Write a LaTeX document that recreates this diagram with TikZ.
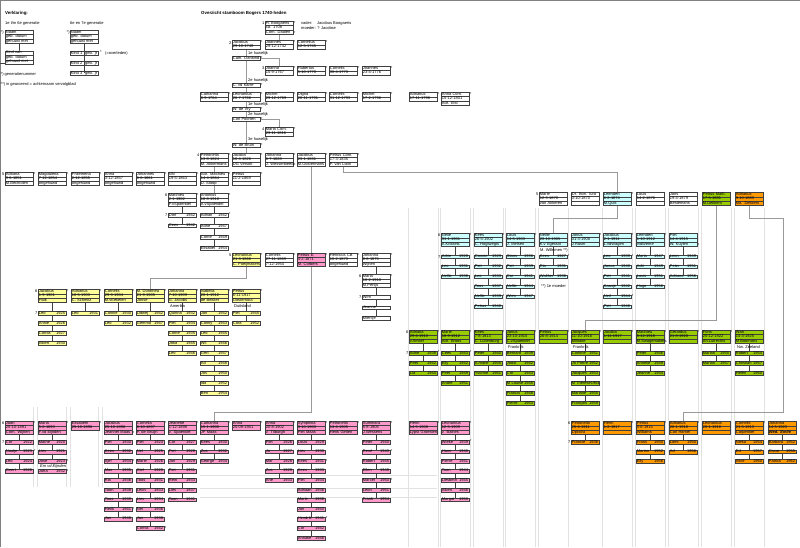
\documentclass[tikz,border=0pt]{standalone}
\usepackage{fontspec}
\setmainfont{Liberation Sans}
\usetikzlibrary{shapes.multipart}
\definecolor{yel}{HTML}{FFFF99}
\definecolor{pnk}{HTML}{FF99CC}
\definecolor{cyn}{HTML}{CCFFFF}
\definecolor{grn}{HTML}{99CC00}
\definecolor{org}{HTML}{FF9900}
\definecolor{boxc}{HTML}{404040}
\definecolor{linec}{HTML}{9A9A9A}
\definecolor{faint}{HTML}{E2E2E2}
\pgfdeclarelayer{bg}
\pgfsetlayers{bg,main}
\newcommand\tf{\fontsize{4}{4.8}\selectfont}
\newcommand\rs{\rule[-1.2pt]{0pt}{4pt}}
\newcommand\ks{\rule[-1pt]{0pt}{3.7pt}}
\newcount\lc
\newcommand\lab[3]{\global\advance\lc by 1\relax\node[lbl] (t\the\lc) at (#1,#2) {#3};}
\newcommand\gn[3]{\global\advance\lc by 1\relax\node[lbl,anchor=east] (t\the\lc) at ({#1-0.4},{#2+2.6}) {#3};}
\newcommand\sa[2]{\global\advance\lc by 1\relax\node[lbl] (t\the\lc) at ({#1+28.6},{#2+1.9}) {*};}
\newcommand\PB[7]{\node[pb3,fill=#4] (#1) at (#2,#3) {\mbox{\rs #5}\nodepart{two}\mbox{\rs #6}\nodepart{three}\mbox{\rs #7}};}
\newcommand\PT[6]{\node[pb2,fill=#4] (#1) at (#2,#3) {\mbox{\rs #5}\nodepart{two}\mbox{\rs #6}};}
\newcommand\SB[5]{\node[kb,fill=#4] (#1) at (#2,#3) {\mbox{\ks #5}};}
\newcommand\KT[2]{\hbox to 26.2pt{\ks #1\hfil #2}}
\newcommand\Kids[7]{%
 \foreach \nm/\yr/\sk [count=\ci] in {#7}{%
   \node[kb,fill=#6] (#1\ci) at (#3,{#4+(\ci-1)*#5}) {\KT{\nm}{\yr}};
   \ifnum\sk=1 \node[lbl] (#1s\ci) at ({#3+28.6},{#4+(\ci-1)*#5+1.6}) {*};\fi
   \xdef\lastk{#1\ci}}%
 \begin{pgfonlayer}{bg}\draw[kidl] (#2.south) -- (\lastk.center);\end{pgfonlayer}}
\tikzset{
 pb3/.style={rectangle split, rectangle split parts=3, draw=boxc, line width=0.4pt,
   text width=26.2pt, inner xsep=0.7pt, inner ysep=0pt, anchor=north west, font=\tf, align=left},
 pb2/.style={pb3, rectangle split parts=2},
 kb/.style={draw=boxc, line width=0.4pt, text width=26.2pt, inner xsep=0.7pt, inner ysep=0pt,
   anchor=north west, font=\tf, align=left},
 lbl/.style={font=\tf, inner sep=0pt, anchor=west},
 conn/.style={draw=linec, line width=1pt},
 kidl/.style={draw=boxc, line width=0.4pt},
 fl/.style={draw=faint, line width=0.5pt},
}
\begin{document}
\begin{tikzpicture}[x=1pt,y=-1pt]
\useasboundingbox (0,0) rectangle (800,547);
\begin{pgfonlayer}{bg}
\fill[white] (0,0) rectangle (800,547);
\draw[gray, line width=1.4pt] (0.7,547) -- (0.7,0.7) -- (800,0.7);
% faint grid remnants
\foreach \xx in {409,441,474,506,539,603,636,669,702,735}{
  \draw[fl] (\xx-0.8,208) -- (\xx-0.8,547);
  \draw[fl] (\xx+28.8,208) -- (\xx+28.8,547);}
\draw[fl] (200,475) -- (437,475);
\draw[fl] (200,488) -- (437,488);
\draw[fl] (200,497) -- (437,497);
\foreach \xx in {33.5,37,66,70,98.5,102}{\draw[fl] (\xx,407) -- (\xx,487);}
\end{pgfonlayer}
% ---------- legend ----------
\node[lbl,font={\fontsize{4.4}{5}\selectfont\bfseries}] (ver) at (5,13) {Verklaring:};
\lab{5}{23.3}{1e t/m 6e generatie}
\lab{70}{23.3}{6e en 7e generatie}
\lab{0.5}{32}{*)}
\PB{la}{5}{30}{white}{Naam}{geb. datum}{gehuwd met}
\PB{lb}{5}{50.5}{white}{Kind van}{geb. datum}{gehuwd met}
\lab{66.5}{32}{*)}
\PB{lc}{70}{30}{white}{Naam}{geb. datum}{gehuwd met}
\node[kb] (lk1) at (70,51) {\KT{Kind 1}{geb. jr}};
\node[kb] (lk2) at (70,61) {\KT{Kind 2}{geb. jr}};
\node[kb] (lk3) at (70,71) {\KT{Kind 3}{geb. jr}};
\lab{100}{52.5}{*}
\lab{105}{53.3}{(=overleden)}
\lab{0.5}{74}{*) generatienummer}
\lab{0.5}{84.3}{**) in gearceerd = achternaam vervolgblad}
\coordinate (ls) at (0,63.3);
\begin{pgfonlayer}{bg}
\draw[kidl] (la.south) -- (lb.north);
\draw[kidl] (lc.south) -- (lk3.center);
\draw[kidl] (ls) -- (ls -| lb.west);
\end{pgfonlayer}
% ---------- title ----------
\node[lbl,font={\fontsize{4.4}{5}\selectfont\bfseries}] (tit) at (201,13.3) {Overzicht stamboom Bogers 1740-heden};
\lab{301}{23}{vader:}
\lab{317}{23}{Jacobus Boogaerts}
\lab{301}{28}{moeder: ? Jacobse}
% ---------- gen 1-4 ----------
\gn{265}{21}{1}
\PB{hb}{265}{21}{white}{H. Boogaerts}{ca. 1708}{Corn. Daalen}
\sa{265}{21}\sa{265}{31}
\gn{232}{40}{2}
\PT{ja2}{232}{40}{white}{Jacobus}{29-10-1740}\sa{232}{40}
\PT{jo2}{265}{40}{white}{Joannes}{29-12-1742}\sa{265}{40}
\PT{co2}{297}{40}{white}{Cornelius}{12-5-1745}\sa{297}{40}
\lab{248}{53.8}{1e huwelijk}
\SB{cath}{232}{56}{white}{Cath. Daniond}\sa{232}{56}
\gn{265}{66}{3}
\PT{jn3}{265}{66}{white}{Joanna}{15-9-1767}\sa{265}{66}
\PT{hu3}{297}{66}{white}{Hubertus}{5-10-1770}\sa{297}{66}
\PT{cr3}{329}{66}{white}{Cornelis}{30-4-1773}\sa{329}{66}
\PT{jo3}{362}{66}{white}{Joannes}{23-4-1776}\sa{362}{66}
\lab{248}{80.8}{2e huwelijk}
\SB{vdk}{232}{83}{white}{C. vd Karre}\sa{232}{83}
\PT{ca3}{200}{92}{white}{Catharina}{8-9-1764}\sa{200}{92}
\PT{le3}{232}{92}{white}{Leonardus}{26-7-1766}\sa{232}{92}
\PT{mi3}{265}{92}{white}{Michel}{29-12-1769}\sa{265}{92}
\PT{di3}{297}{92}{white}{Digna}{28-11-1791}\sa{297}{92}
\PT{cn3}{329}{92}{white}{Cornelis}{31-12-1793}\sa{329}{92}
\PT{mj3}{362}{92}{white}{Michel}{17-2-1796}\sa{362}{92}
\PT{ad3}{409}{92}{white}{Adrianus}{17-11-1798}\sa{409}{92}
\PB{an3}{441}{92}{white}{Anna Corn.}{15-12-1801}{Adr. Elst}\sa{441}{92}
\lab{248}{104.8}{1e huwelijk}
\SB{vry}{232}{107}{white}{W. de Vry}\sa{232}{107}
\lab{248}{114.8}{2e huwelijk}
\SB{poo}{232}{117}{white}{Corl Poorten}\sa{232}{117}
\gn{265}{127}{4}
\PT{mc}{265}{127}{white}{Maria Corn.}{23-11-1816}\sa{265}{127}
\lab{248}{139.8}{3e huwelijk}
\SB{bru}{232}{143}{white}{W. de Bruin}\sa{232}{143}
\gn{200}{153}{4}
\PB{pe4}{200}{153}{white}{Petronella}{13-8-1824}{M. Akkermans}\sa{200}{153}
\PB{jc4}{232}{153}{white}{Jacoba}{10-4-1826}{DG Versolt}\sa{232}{153}
\PB{jh4}{265}{153}{white}{Johanna}{6-7-1828}{J. Wessenbeeck}\sa{265}{153}
\PB{jb4}{297}{153}{white}{Jacobus}{23-1-1831}{M.Oostermans}\sa{297}{153}
\PB{pc4}{329}{153}{white}{Petrus Corn.}{17-3-1835}{P. van Loon}\sa{329}{153}
% ---------- gen 5 left ----------
\gn{5}{172}{5}
\PB{a5}{5}{172}{white}{Adriana}{9-6-1851}{M.Bechtolen}\sa{5}{172}
\PB{b5}{38}{172}{white}{Magdalena}{7-12-1854}{ongehuwd}\sa{38}{172}
\PB{c5}{71}{172}{white}{Philemena}{2-12-1855}{ongehuwd}\sa{71}{172}
\PB{d5}{104}{172}{white}{Anna}{3-12-1857}{ongehuwd}\sa{104}{172}
\PB{e5}{136}{172}{white}{Johannes}{6-6-1861}{ongehuwd}\sa{136}{172}
\PB{f5}{168}{172}{white}{NN}{19-5-1863}{}\sa{168}{172}
\PB{am5}{200}{172}{white}{Adr. Matthieu}{14-4-1864}{D. Stoop}\sa{200}{172}
\PB{pt5}{232}{172}{white}{Petrus}{11-2-1869}{}\sa{232}{172}
\gn{168}{193}{6}
\PB{mt6}{168}{193}{white}{Matthieu}{2-1-1902}{P.vSpaendel}\sa{168}{193}
\PB{at6}{200}{193}{white}{Antonius}{18-8-1918}{A.vSpaendel}\sa{200}{193}
\gn{168}{213}{7}
\Kids{kma}{mt6}{168}{213}{10.5}{white}{Dorf/1942/0,Cees/1942/0}
\Kids{kan}{at6}{200}{213}{11}{white}{Adrian/1942/1,Adrie/1947/0,Corrie/1949/0,Elisabet/1954/0}
% ---------- gen 5 right ----------
\gn{539}{192}{5}
\PB{mr5}{539}{192}{white}{Marie}{12-3-1870}{van Akkeren}
\PB{bo5}{571}{192}{white}{Dr. Bon. Iura}{3-10-1870}{}
\PB{ld5}{603}{192}{cyn}{Leendert}{6-2-1874}{M.Quik}\sa{603}{192}
\PB{lo5}{636}{192}{white}{Louis}{14-2-1876}{}
\PB{js5}{669}{192}{white}{Jans}{19-4-1879}{Bestemans}
\PB{pm5}{702}{192}{grn}{Petrus Math.}{17-5-1881}{M.Dekkers}
\PB{ao5}{735}{192}{org}{Adrianus}{9-10-1883}{Ma. Dekkers}
% cyan gen 6
\gn{441}{233}{6}
\PB{cne}{441}{233}{cyn}{Nelle}{31-1-1901}{A.Krikkels}\sa{441}{233}
\PB{cke}{474}{233}{cyn}{Kees}{26-5-1902}{C. Hogtwegts}\sa{474}{233}
\PB{clo}{506}{233}{cyn}{Louis}{14-5-1903}{J. Melsen}\sa{506}{233}
\PB{cnl}{539}{233}{cyn}{Nellie}{20-10-1905}{K.v Egeraat}
\PB{cjn}{571}{233}{cyn}{Janus}{31-3-1908}{J.Rasm}
\PB{cja}{603}{233}{cyn}{Jacobus}{2-1-1911}{L.vdWagen}\sa{571}{233}
\PB{cle}{636}{233}{cyn}{Leendert}{1-10-1912}{IvdWeme}\sa{603}{233}
\PB{cpi}{669}{233}{cyn}{Piet}{14-4-1915}{W. Kuylen}\sa{636}{233}\sa{669}{243}
\lab{540}{250.8}{M. Willemen **)}
\gn{441}{254.5}{7}
\Kids{kca}{cne}{441}{254.5}{10}{cyn}{Adrie/1928/0,Leo/1931/0,Nellie/1938/0}
\Kids{kcb}{cke}{474}{254.5}{10}{cyn}{Connie/1929/0,Piet/1932/0,Leo/1933/0,Toos/1937/0,Nellie/1939/1,Petrus/1940/0}
\Kids{kcc}{clo}{506}{254.5}{10}{cyn}{Stans/1936/0,Piet/1939/0,Cor/1941/0,Nellie/1944/0,Wies/1947/0}
\Kids{kcd}{cnl}{539}{254.5}{10}{cyn}{Kees/1927/1,Ria/1931/0,Walther/1936/0}
\Kids{kce}{cja}{603}{254.5}{10}{cyn}{Leo/1939/1,Janus/1940/0,Piet/1941/0,Kaasje/1942/0,Neil/1944/1,Piet/1946/0}
\Kids{kcf}{cle}{636}{254.5}{10}{cyn}{Maria/1947/0,Adri/1949/0,Louis/1951/0,Hugo/1956/0}
\Kids{kcg}{cpi}{669}{254.5}{10}{cyn}{Leon/1949/0,Peter/1951/0,Adriano/1956/0}
\lab{541}{286.7}{**) 1e moeder}
% ---------- gen 5 middle ----------
\gn{232}{253}{5}
\PB{ly5}{232}{253}{yel}{Leonardus}{21-3-1866}{C. Poeijmakers}\sa{232}{253}
\PB{cr5}{265}{253}{white}{Cornelis}{27-11-1869}{7-12-1954}\sa{265}{253}
\PB{pe5}{297}{253}{pnk}{Petrus E.}{4-2-1871}{M. Corbers}\sa{297}{253}
\PB{hc5}{329}{253}{white}{Henricus CB}{10-2-1873}{ongehuwd}\sa{329}{253}
\PB{jh5}{362}{253}{white}{Johanna}{8-6-1875}{Wijnen}\sa{362}{253}
\gn{362}{274}{6}
\PB{ma6}{362}{274}{white}{Maria}{10-2-1910}{M.Pertijs}\sa{362}{274}
\gn{362}{295}{7}
\SB{wim}{362}{295}{white}{Wim}
\SB{jea}{362}{305.5}{white}{Jeanne}
\SB{mie}{362}{316}{white}{Mientje}
% yellow gen 6
\gn{38}{289}{6}
\PB{yja}{38}{289}{yel}{Jacobus}{1-9-1901}{Huik}\sa{38}{289}
\PB{yad}{71}{289}{yel}{Adrianus}{10-5-1903}{C. Schmitz}\sa{71}{289}
\PB{yco}{104}{289}{yel}{Cornelis}{29-9-1904}{M.vEekelen}\sa{104}{289}
\PB{ymd}{136}{289}{yel}{M. Dorothea}{21-9-1905}{Jonse}\sa{136}{289}
\PB{yjo}{168}{289}{yel}{Johanna}{7-10-1909}{G. Jacobs}\sa{168}{289}
\PB{yis}{200}{289}{yel}{Isabella}{20-1-1912}{de Bekker}\sa{200}{289}
\PB{ypt}{232}{289}{yel}{Petrus}{6-11-1917}{Oosterhout}\sa{232}{289}
\lab{170}{306.5}{Amerika}
\lab{234}{306.5}{Duitsland}
\gn{38}{311}{7}
\Kids{kya}{yja}{38}{311}{10}{yel}{Leo/1925/0,Annie/1926/0,Cornia/1927/0,Albert/1930/0}
\Kids{kyb}{yad}{71}{311}{10}{yel}{Leo/1931/0}
\Kids{kyc}{yco}{104}{311}{10}{yel}{Connie/1930/0,Leo/1932/0}
\Kids{kyd}{ymd}{136}{311}{10}{yel}{Lidwej/1942/0,Gemma/1947/0}
\Kids{kye}{yjo}{168}{311}{10}{yel}{Quirina/1932/0,Piet/1934/0,Corrie/1935/0,Joka/1945/0,Leo/1946/0}
\Kids{kyf}{yis}{200}{311}{10}{yel}{Jan/1942/0,Conny/1943/0,Leo/1945/0,Wil/1946/0,Gert/1947/0,Ad/1948/0,Jos/1950/0,Ida/1952/0,Ben/1954/0}
\Kids{kyg}{ypt}{232}{311}{10}{yel}{Piet/1945/0,Cora/1952/0}
% green gen 6
\gn{409}{330}{6}
\PB{gad}{409}{330}{grn}{Adriana}{29-6-1910}{v.Amsel}\sa{409}{330}
\PB{gma}{441}{330}{grn}{Marie}{18-9-1912}{Adr. Broos}\sa{441}{330}
\PB{gke}{474}{330}{grn}{Kees}{7-8-1913}{C. Luitenburg}\sa{474}{330}
\PB{gja}{506}{330}{grn}{Janus}{23-10-1915}{C.vSpaendel}\sa{506}{330}
\PB{gpe}{539}{330}{grn}{Petrus}{26-8-1914}{}\sa{539}{330}
\PB{gjq}{571}{330}{grn}{Jacques}{11-10-1916}{Militaire}\sa{571}{330}
\PB{gjb}{603}{330}{grn}{Jacoba}{1-11-1917}{}\sa{603}{330}
\PB{gmt}{636}{330}{grn}{Matthieu}{5-12-1918}{M.Swagemakers}\sa{636}{330}
\PB{ggr}{669}{330}{grn}{Gerardus}{21-8-1920}{}\sa{669}{330}
\PB{gfo}{702}{330}{grn}{Fons}{25-12-1922}{Ah.Lutrechts}\sa{702}{330}
\PB{gwa}{735}{330}{grn}{Wan}{14-3-1925}{M.Boomans}
\lab{508}{347.5}{Frankrijk}
\lab{573}{347.5}{Frankrijk}
\lab{737}{347.5}{Nw. Zeeland}
\gn{409}{351}{7}
\Kids{kga}{gad}{409}{351}{10}{grn}{Adrie/1938/1,Peet/1942/0,Lia/1944/0}
\Kids{kgb}{gma}{441}{351}{10}{grn}{Cees/1943/1,Elly/1942/0,Peet/1949/0,André/1951/0}
\Kids{kgc}{gke}{474}{351}{10}{grn}{Peter/1940/0,A.marie/1955/0,Yvonne/1961/0}
\Kids{kgd}{gja}{506}{351}{10}{grn}{Bernard/1939/0,Joost/1942/0,Cor/1943/0,M Louise/1945/0,Francis/1948/0,Pierre/1953/0}
\Kids{kge}{gjq}{571}{351}{10}{grn}{Corinne/1951/0,Jn Pierre/1952/0,Jacques/1953/0,M'Thérèse/1954/0,Mariane/1955/0,François/1959/0}
\Kids{kgf}{gmt}{636}{351}{10}{grn}{Peter/1946/0,Annelie/1949/0,Jeanne/1954/0}
\Kids{kgg}{gfo}{702}{351}{10}{grn}{Marian/1955/0,Marian/1957/0}
\Kids{kgh}{gwa}{735}{351}{10}{grn}{Robert/1954/0,Christian/1957/0,Helen/1960/0}
% pink gen 6
\gn{5}{421}{6}
\PB{pa}{5}{421}{pnk}{Jaan}{25-10-1891}{Corn. Wijnen}\sa{5}{421}
\PB{pb}{38}{421}{pnk}{Maria}{5-2-1893}{F.vd Eijnden}\sa{38}{421}
\PT{pc}{71}{421}{pnk}{Elisabeth}{25-10-1896}\sa{71}{421}
\PB{pd}{104}{421}{pnk}{Jacobus}{25-10-1896}{Jeannet Maas}\sa{104}{431}
\PB{pf}{136}{421}{pnk}{Cornelia}{6-10-1897}{P. de Bruijn}\sa{136}{421}
\PB{pg}{168}{421}{pnk}{Jeanette}{1-12-1898}{v. Spaendel}\sa{168}{421}
\PB{ph}{200}{421}{pnk}{Catharina}{15-1-1900}{JP Maas}\sa{200}{421}
\PT{pi}{232}{421}{pnk}{Anna}{25-09-1901}\sa{232}{421}
\PB{pj}{265}{421}{pnk}{Anna}{20-8-1902}{v. Tilburgh}\sa{265}{421}
\PB{pk}{297}{421}{pnk}{Symphina}{9-10-1903}{Piet Maas}\sa{297}{421}
\PB{pl}{329}{421}{pnk}{Petronella}{13-6-1905}{Henk Gelten}\sa{329}{421}
\PB{pm}{362}{421}{pnk}{Summara}{5-8-1906}{J.Wessens}\sa{362}{421}
\PB{pn}{409}{421}{pnk}{Henri}{14-5-1908}{Lypst Groesten}\sa{409}{421}
\PB{po}{441}{421}{pnk}{Leonardus}{12-5-1909}{v. Balnes}\sa{441}{421}
\gn{5}{440}{7}
\Kids{kpa}{pa}{5}{440}{9.6}{pnk}{Cor/1922/0,Naatje/1923/1,Leo/1924/0,Geert/1926/0}
\Kids{kpb}{pb}{38}{440}{9.6}{pnk}{Mathe/1920/0,Lies/1921/0,Jose/1923/1}
\lab{40}{466}{\itshape Em vd Eijnden}
\node[kb,fill=pnk] (kpb4) at (38,469.3) {\KT{Jofra}{1932}};
\lab{66.6}{471}{*}
\Kids{kpd}{pd}{104}{440}{9.6}{pnk}{Piet/1930/0,Kees/1932/0,Sjef/1934/1,Max/1935/0,Ria/1936/0,Toon/1938/0,Toos/1939/0,Henk/1941/1,Jan/1946/0}
\Kids{kpf}{pf}{136}{440}{9.6}{pnk}{Piet/1924/0,Nel/1925/0,Marie/1926/0,Giel/1928/0,Toos/1931/0,Leon/1933/0,Lies/1934/0,Nel/1936/0,Jan/1938/0,Cornia/1942/1}
\Kids{kpg}{pg}{168}{440}{9.6}{pnk}{Cor/1927/0,Piet/1928/0,Jan/1929/0,Piet/1931/0,Rein/1933/0,Lies/1937/0,Toon/1941/0}
\Kids{kph}{ph}{200}{440}{9.6}{pnk}{Kees/1930/0,Zus/1932/0,George/1934/0}
\Kids{kpj}{pj}{265}{440}{9.6}{pnk}{Piet/1926/0,Jo/1927/0,Mar/1928/0,Zus/1929/0,Arie/1933/0}
\Kids{kpk}{pk}{297}{440}{9.6}{pnk}{Louis/1929/0,Lies/1930/0,Kees/1931/1,Kees/1933/0,Piet/1934/0,Adriaan/1936/0,Marie/1938/0,Jan/1940/0,Hendrik/1941/1,Cor/1942/0,Annake/1946/0}
\Kids{kpm}{pm}{362}{440}{9.6}{pnk}{Peter/1940/0,René/1943/1,Robert/1945/0,Ellen/1948/0,Marcel/1950/1,Leon/1951/0,Frank/1954/0}
\Kids{kpo}{po}{441}{440}{9.6}{pnk}{Wieke/1939/1,Hans/1940/0,Pierre/1941/0,Toon/1944/0,Liesbeth/1945/0,Albert/1946/0,Margot/1950/0}
% orange gen 6
\gn{571}{421}{6}
\PB{oa}{571}{421}{org}{Petronella}{25-6-1911}{Dijkstra}
\PB{ob}{603}{421}{org}{Henri}{1-2-1917}{}\sa{603}{421}
\PB{oc}{636}{421}{org}{Petrus}{5-6-1915}{Williams}\sa{636}{421}
\PB{od}{669}{421}{org}{Adrianus}{20-1-1918}{Corl Hamel}\sa{669}{421}
\PB{oe}{702}{421}{org}{Leonardus}{20-1-1918}{}
\PB{of}{735}{421}{org}{Cornelis}{21-5-1913}{Carpentier}\sa{735}{421}
\PB{og}{768}{421}{org}{Johanna}{14-5-1923}{\textbf{\itshape Wed. Emile}}
\gn{571}{440}{7}
\Kids{koa}{oa}{571}{440}{9.6}{org}{Francie/1936/0}
\Kids{koc}{oc}{636}{440}{9.6}{org}{Frans/1950/0,Marian/1952/0,Elly/1956/0}
\Kids{kod}{od}{669}{440}{9.6}{org}{Loes/1950/0,Ad/1956/0}
\Kids{kof}{of}{735}{440}{9.6}{org}{Nieka/1954/0,Ed/1957/0,Alice/1960/0}
\Kids{kog}{og}{768}{440}{9.6}{org}{Barbara/1952/0,Oscar/1955/0,Patrick/1962/0}
% ---------- connectors ----------
\coordinate (y172) at (0,172);
\coordinate (y218) at (0,218);
\coordinate (y278) at (0,278);
\coordinate (y320) at (0,320);
\coordinate (y412) at (0,412);
\coordinate (x783) at (783,0);
\begin{pgfonlayer}{bg}
\draw[conn] (hb.south) -- (jo2.north);
\draw[conn] (ja2.south) -- (cath.north);
\draw[conn] (cath.south) -- (vdk.north);
\draw[conn] (vdk.south) -- (le3.north);
\draw[conn] (le3.south) -- (vry.north);
\draw[conn] (vry.south) -- (poo.north);
\draw[conn] (poo.south) -- (bru.north);
\draw[conn] (bru.south) -- (jc4.north);
\draw[conn] (cath.east) -| (jn3.north);
\draw[conn] (poo.east) -| (mc.north);
\draw[conn] (pe4.south) -- (am5.north);
\draw[conn] (am5.south) -- (at6.north);
\draw[conn] (jb4.south) -- (pe5.north);
\draw[conn] (pe5.south) -- (pe5.south |- y412) -| (ph.north);
\draw[conn] (pc4.south) -- (pc4.south |- y172) -| (ld5.north);
\draw[conn] (ld5.south) -- (ld5.south |- y218) -| (cnl.north);
\draw[conn] (ly5.south) -- (ly5.south |- y278) -| (ymd.north);
\draw[conn] (pm5.south) -- (pm5.south |- y320) -| (gjq.north);
\draw[conn] (ao5.south) -- (ao5.south |- y218) -- (x783 |- y218) -- (x783 |- y412) -| (od.north);
\draw[kidl] (jh5.south) -- (ma6.north);
\draw[kidl] (ma6.south) -- (mie.center);
\end{pgfonlayer}
\end{tikzpicture}
\end{document}
